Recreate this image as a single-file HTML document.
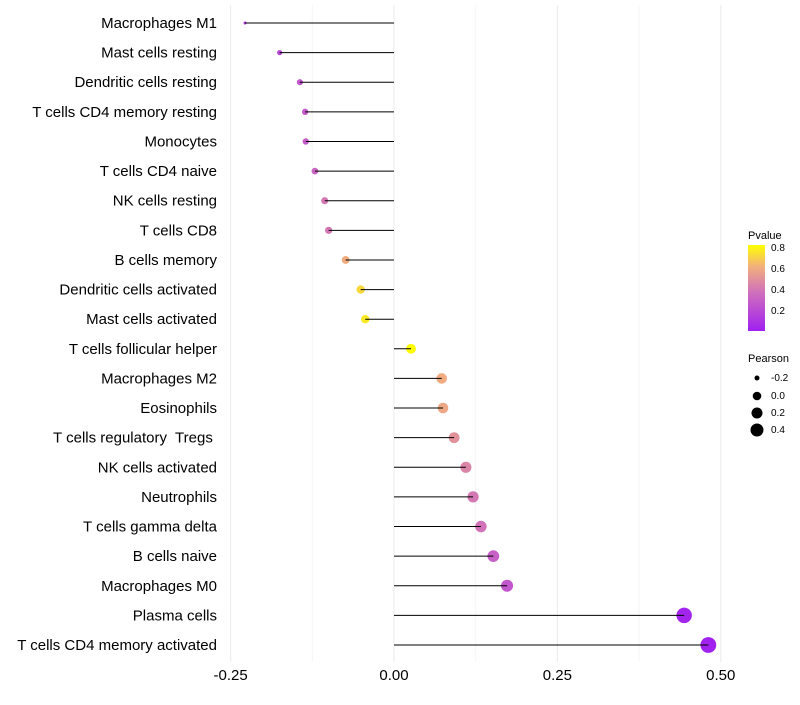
<!DOCTYPE html>
<html><head><meta charset="utf-8"><style>
body{margin:0;background:#fff;font-family:"Liberation Sans",sans-serif}
text{white-space:pre}
</style></head><body>
<svg id="chart" width="800" height="700">
<defs><linearGradient id="pg" x1="0" y1="1" x2="0" y2="0">
<stop offset="0" stop-color="#a020f0"/><stop offset="0.45" stop-color="#d070bc"/><stop offset="0.75" stop-color="#f2b07c"/><stop offset="1" stop-color="#ffff00"/></linearGradient></defs>
<g id="grid"></g><g id="dots"></g><g id="stems"></g><g id="labels"></g>
<g font-size="10">
<text x="748" y="239" font-size="11">Pvalue</text>
<rect x="748" y="245" width="17" height="86" fill="url(#pg)"/>
<text x="771" y="251">0.8</text><text x="771" y="272">0.6</text><text x="771" y="293">0.4</text><text x="771" y="314">0.2</text>
</g>
<g font-size="10">
<text x="748" y="362" font-size="11">Pearson</text>
<circle cx="757" cy="378" r="2.5"/><text x="771" y="381">-0.2</text>
<circle cx="757" cy="396" r="4.3"/><text x="771" y="399">0.0</text>
<circle cx="757" cy="413" r="5.5"/><text x="771" y="416">0.2</text>
<circle cx="757" cy="430" r="6.5"/><text x="771" y="433">0.4</text>
</g>
</svg>
<script>
const cells=["Macrophages M1","Mast cells resting","Dendritic cells resting","T cells CD4 memory resting","Monocytes","T cells CD4 naive","NK cells resting","T cells CD8","B cells memory","Dendritic cells activated","Mast cells activated","T cells follicular helper","Macrophages M2","Eosinophils","T cells regulatory  Tregs ","NK cells activated","Neutrophils","T cells gamma delta","B cells naive","Macrophages M0","Plasma cells","T cells CD4 memory activated"];
const pearson=[-0.228,-0.175,-0.144,-0.136,-0.135,-0.121,-0.106,-0.100,-0.074,-0.051,-0.044,0.026,0.073,0.075,0.092,0.110,0.121,0.133,0.152,0.173,0.444,0.481];
const pvalue=[0.1,0.2,0.25,0.28,0.28,0.32,0.4,0.4,0.6,0.72,0.76,0.88,0.6,0.58,0.5,0.45,0.4,0.38,0.3,0.25,0.02,0.01];
const ticks=[-0.25,0,0.25,0.5];
const tickLabels=["-0.25","0.00","0.25","0.50"];
const NS="http://www.w3.org/2000/svg";
const X=v=>394+v*653.5;
const Y=i=>23+i*(622/21);
function col(p){const t=Math.max(0,Math.min(1,p/0.82));
const st=[[0,[160,32,240]],[0.45,[208,112,188]],[0.75,[242,176,124]],[1,[255,255,0]]];
for(let k=1;k<st.length;k++){if(t<=st[k][0]){const a=st[k-1],b=st[k],f=(t-a[0])/(b[0]-a[0]);
return "rgb("+a[1].map((c,j)=>Math.round(c+(b[1][j]-c)*f)).join(",")+")";}}return "rgb(255,255,0)";}
function mk(tag,at,parent){const e=document.createElementNS(NS,tag);for(const k in at)e.setAttribute(k,at[k]);parent.appendChild(e);return e;}
const grid=document.getElementById('grid'),dots=document.getElementById('dots'),stems=document.getElementById('stems'),labels=document.getElementById('labels');
ticks.forEach((t,i)=>{
const g=mk('line',{x1:X(t),x2:X(t),y1:5,y2:662,stroke:'#ebebeb','stroke-width':1},grid);


const tx=mk('text',{x:X(t),y:680,'text-anchor':'middle','font-size':15,fill:'#000'},labels);
tx.textContent=tickLabels[i];


});
[-0.125,0.125,0.375].forEach(t=>{const g=mk('line',{x1:X(t),x2:X(t),y1:5,y2:662,stroke:'#f5f5f5','stroke-width':1},grid);

});
cells.forEach((c,i)=>{
const y=Y(i);
const r=Math.sqrt(Math.max(2.25,2.25+85*(pearson[i]+0.228)));
const d=mk('circle',{cx:X(pearson[i]),cy:y,r:r,fill:col(pvalue[i])},dots);


const l=mk('line',{x1:X(0),x2:X(pearson[i]),y1:y,y2:y,stroke:'#000','stroke-width':1},stems);


const t=mk('text',{x:217,y:y+5,'text-anchor':'end','font-size':15,fill:'#000'},labels);
t.textContent=c;


});
</script>
</body></html>
